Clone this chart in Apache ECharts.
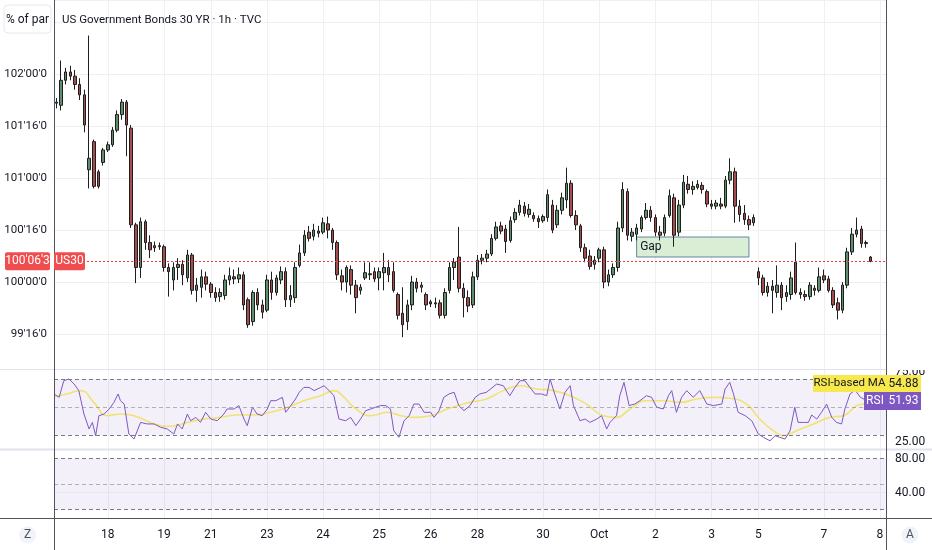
<!DOCTYPE html>
<html><head><meta charset="utf-8">
<script src="https://cdn.jsdelivr.net/npm/echarts@6/dist/echarts.min.js"></script>
<style>html,body{margin:0;padding:0;background:#fff}#c{width:932px;height:550px}</style>
</head><body><div id="c"></div><script>
const chartTitle = 'US Government Bonds 30 YR \u00b7 1h \u00b7 TVC';
const unitLabel = '% of par';
const symbolLabel = 'US30';
const slotCount = 178;
const tickIndex = [11, 23, 33, 45, 57, 69, 80, 90, 104, 116, 128, 140, 150, 164, 176];
const tickText = ['18', '19', '21', '23', '24', '25', '26', '28', '30', 'Oct', '2', '3', '5', '7', '8'];
// [open, close, low, high]
const candles = [
[101.72,101.73,101.67,101.77],[101.70,101.94,101.65,102.13],[101.94,102.02,101.90,102.06],[102.02,101.98,101.94,102.08],
[101.98,101.90,101.85,102.04],[101.90,101.80,101.75,101.96],[101.80,101.51,101.44,101.85],[101.08,101.19,100.90,102.37],
[101.35,100.92,100.90,101.37],[101.06,100.92,100.90,101.08],[101.15,101.27,101.12,101.29],[101.27,101.32,101.25,101.35],
[101.32,101.46,101.30,101.49],[101.46,101.61,101.44,101.65],[101.61,101.73,101.56,101.76],[101.73,101.51,101.21,101.75],
[101.48,100.55,100.52,101.51],[100.55,100.14,99.99,100.57],[100.14,100.58,100.04,100.62],[100.58,100.38,100.31,100.60],
[100.38,100.31,100.23,100.45],[100.33,100.35,100.29,100.39],[100.35,100.34,100.31,100.38],[100.34,100.14,100.10,100.36],
[100.14,100.10,99.86,100.18],[100.02,100.14,99.92,100.19],[100.14,100.17,100.02,100.23],[100.17,100.07,99.97,100.21],
[100.04,100.26,100.00,100.31],[100.26,99.92,99.88,100.28],[99.92,99.97,99.81,100.04],[99.95,100.05,99.85,100.12],
[100.05,99.98,99.92,100.10],[99.98,99.90,99.85,100.00],[99.90,99.85,99.81,99.95],[99.86,99.90,99.81,99.94],
[99.87,100.02,99.83,100.07],[100.02,100.06,99.97,100.14],[100.05,100.03,99.98,100.12],[100.03,100.07,99.99,100.14],
[100.07,99.78,99.73,100.10],[99.83,99.59,99.56,99.85],[99.62,99.90,99.58,99.92],[99.90,99.78,99.73,99.94],
[99.78,99.71,99.65,99.83],[99.73,100.02,99.71,100.07],[100.02,99.90,99.83,100.10],[99.90,100.04,99.87,100.07],
[100.02,100.10,99.98,100.15],[100.10,99.83,99.76,100.14],[99.83,99.87,99.76,99.97],[99.85,100.14,99.80,100.19],
[100.16,100.28,100.14,100.36],[100.28,100.45,100.25,100.50],[100.48,100.42,100.39,100.54],[100.44,100.50,100.40,100.56],
[100.49,100.47,100.43,100.54],[100.48,100.57,100.46,100.62],[100.56,100.50,100.42,100.63],[100.50,100.38,100.31,100.52],
[100.38,100.07,100.02,100.40],[100.06,100.00,99.92,100.12],[100.00,100.14,99.90,100.16],[100.12,99.97,99.88,100.16],
[99.97,99.85,99.70,100.02],[99.92,99.95,99.88,99.98],[100.04,100.09,100.02,100.19],[100.07,100.08,100.02,100.19],
[100.10,100.03,100.00,100.14],[100.04,100.10,99.92,100.14],[100.09,100.14,99.92,100.28],[100.14,100.07,100.00,100.21],
[100.10,99.92,99.90,100.19],[99.88,99.68,99.64,99.90],[99.70,99.59,99.47,99.95],[99.62,99.78,99.54,99.83],
[99.78,100.00,99.73,100.06],[100.00,99.94,99.90,100.04],[99.95,99.97,99.90,100.00],[99.88,99.78,99.73,99.90],
[99.81,99.79,99.76,99.83],[99.79,99.80,99.75,99.85],[99.80,99.68,99.65,99.83],[99.68,99.90,99.65,99.94],
[99.92,100.14,99.89,100.19],[100.14,100.19,100.02,100.23],[100.24,99.94,99.90,100.53],[99.94,99.85,99.66,99.99],
[99.85,99.77,99.71,99.92],[99.78,100.05,99.75,100.10],[100.05,100.21,100.02,100.26],[100.21,100.23,100.17,100.27],
[100.23,100.27,100.19,100.31],[100.27,100.42,100.25,100.46],[100.42,100.53,100.40,100.58],[100.54,100.49,100.46,100.58],
[100.51,100.39,100.28,100.55],[100.40,100.59,100.38,100.63],[100.60,100.67,100.57,100.71],[100.67,100.74,100.64,100.79],
[100.73,100.66,100.63,100.77],[100.65,100.70,100.62,100.75],[100.64,100.61,100.58,100.67],[100.61,100.58,100.52,100.64],
[100.59,100.63,100.57,100.65],[100.62,100.84,100.58,100.89],[100.74,100.50,100.47,100.79],[100.55,100.69,100.52,100.74],
[100.69,100.81,100.65,100.86],[100.79,100.95,100.71,101.10],[100.95,100.64,100.62,100.98],[100.64,100.55,100.50,100.69],
[100.54,100.33,100.29,100.56],[100.33,100.23,100.19,100.37],[100.25,100.15,100.12,100.31],[100.17,100.21,100.12,100.25],
[100.23,100.31,100.19,100.33],[100.31,100.00,99.94,100.34],[100.00,100.07,99.96,100.12],[100.07,100.14,100.04,100.18],
[100.14,100.52,100.10,100.58],[100.52,100.89,100.48,100.96],[100.87,100.45,100.40,100.90],[100.44,100.48,100.39,100.52],
[100.46,100.52,100.40,100.56],[100.51,100.62,100.48,100.64],[100.62,100.69,100.60,100.76],[100.69,100.62,100.58,100.73],
[100.62,100.48,100.44,100.65],[100.48,100.45,100.40,100.54],[100.47,100.62,100.44,100.65],[100.64,100.83,100.62,100.89],
[100.81,100.45,100.34,100.85],[100.48,100.74,100.44,100.79],[100.74,100.96,100.71,101.03],[100.94,100.89,100.85,101.02],
[100.89,100.92,100.84,100.97],[100.91,100.94,100.89,100.98],[100.93,100.89,100.85,100.96],[100.87,100.75,100.72,100.89],
[100.75,100.73,100.70,100.79],[100.73,100.76,100.70,100.79],[100.75,100.73,100.70,100.81],[100.73,100.98,100.71,101.02],
[100.98,101.06,100.94,101.19],[101.06,100.73,100.57,101.10],[100.73,100.65,100.58,100.79],[100.66,100.60,100.55,100.74],
[100.60,100.55,100.50,100.64],[100.57,100.62,100.54,100.65],[100.10,100.04,99.97,100.14],[100.04,99.90,99.87,100.07],
[99.90,99.96,99.86,100.00],[99.96,99.92,99.70,100.02],[99.90,99.97,99.85,100.16],[99.97,99.85,99.73,100.00],
[99.86,99.90,99.81,99.97],[99.88,100.04,99.83,100.10],[100.19,99.90,99.88,100.38],[99.90,99.88,99.84,99.94],
[99.88,99.86,99.82,99.92],[99.86,99.97,99.83,100.00],[99.94,99.92,99.87,99.97],[99.92,100.05,99.90,100.14],
[100.06,100.02,99.99,100.12],[100.03,99.92,99.90,100.06],[99.92,99.78,99.75,99.95],[99.80,99.73,99.64,99.85],
[99.73,99.97,99.70,100.00],[99.97,100.29,99.94,100.33],[100.29,100.46,100.26,100.52],[100.46,100.50,100.43,100.62],
[100.51,100.37,100.33,100.54],[100.37,100.38,100.33,100.40],[100.24,100.199,100.19,100.25]
];
// [slot position, RSI]
const rsiPoints = [
[0,59.3],[1.1,56.9],[2.1,68.8],[3.2,70],[4.3,66.4],[5.3,61.7],[6.4,45],[7.5,34.3],[8.2,39],[8.9,29.5],[9.6,43.8],
[10.7,45],[11.8,48.6],[12.8,53.3],[13.7,59.3],[14.2,54.5],[15.0,52.1],[16.0,30.7],[17.1,27.1],[18.5,39],[19.9,37.9],
[21.4,37.9],[22.8,35.5],[24.2,34.3],[25.6,30.7],[26.4,37.9],[27.4,34.3],[28.5,45],[29.2,40.2],[30.3,42.6],[31.3,39],
[32.4,46.2],[33.5,41.4],[34.9,40.2],[36.3,45],[37.0,48.6],[38.5,48.6],[39.5,51],[40.6,41.4],[41.3,36.7],[42.4,49.8],
[43.4,45],[44.5,43.8],[45.6,48.6],[46.3,54.5],[47.4,54.5],[48.8,56.9],[49.5,46.2],[50.6,51],[51.6,55.7],[52.4,60.5],
[53.4,64],[54.5,64],[55.6,61.7],[57.0,64],[57.7,65.2],[58.8,61.7],[59.8,58.1],[60.9,41.4],[62.3,40.2],[63.4,42.6],
[64.5,36.7],[65.5,41.4],[66.6,47.4],[67.7,48.6],[68.7,49.8],[69.8,51],[70.9,51],[71.9,48.6],[72.6,33.1],[73.7,28.3],
[74.8,40.2],[75.9,43.8],[76.9,52.1],[78.0,52.1],[79.1,46.2],[80.5,46.2],[81.2,42.6],[82.3,47.4],[83.3,56.9],[84.4,59.3],
[85.5,60.5],[86.5,51],[87.6,47.4],[88.9,51],[90.0,56.9],[91.0,59.3],[92.4,60.5],[94.6,66.4],[96.0,65.2],[97.4,58.1],
[98.5,64],[99.6,68.8],[100.6,68.8],[101.7,64],[102.8,59.3],[104.2,59.3],[105.3,58.1],[106.0,70],[107.1,58.1],[108.1,48.6],
[109.2,60.5],[110.3,65.2],[111.0,51],[112.4,40.2],[113.5,41.4],[114.5,39],[116.0,41.4],[117.0,43.8],[118.1,34.3],[118.8,39],
[120.2,43.8],[120.9,58.1],[121.8,67.6],[122.9,51],[124.1,52.1],[125.2,54.5],[126.6,58.1],[127.7,56.9],[128.8,49.8],[130.2,48.6],
[131.3,58.1],[132.0,61.7],[133.0,46.2],[134.1,56.9],[135.2,61.7],[136.6,56.9],[138.0,61.7],[139.5,52.1],[140.9,51],[142.7,52.1],
[143.4,62.9],[144.4,67.6],[145.2,59.3],[146.2,46.2],[147.7,43.8],[149.1,40.2],[150.5,30.7],[151.6,28.3],[153.0,25.9],[154.1,29.5],
[155.1,28.3],[156.2,27.1],[157.3,33.1],[158.3,49.8],[159.0,39],[160.1,39],[161.2,39],[161.9,44.3],[163.0,41.4],[164.0,46.2],
[165.1,52.1],[166.2,42.6],[167.2,39],[168.3,37.9],[169.0,48.6],[170.1,59.3],[171.2,62],[172.3,57],[173.4,55],[174.5,51.93]
];
// [slot position, RSI-based MA]
const rsiMaPoints = [
[0,57.5],[2.8,59.3],[5.7,61.7],[8.5,53.3],[11.4,43.8],[14.2,45],[17.1,43.8],[21.4,37.9],[24.9,36.2],[28.5,39],[32.1,41.4],
[35.6,42.6],[39.2,44.3],[42.7,44.3],[46.3,46.2],[49.9,49.8],[53.4,54.5],[57.0,58.1],[59.8,61.7],[62.0,56.9],[64.1,49.8],
[67.7,43.8],[71.2,46.2],[74.1,43.8],[76.9,42.6],[80.5,43.8],[84.0,48.6],[88.9,53.3],[92.4,55.7],[96.0,61.7],[99.6,65.2],
[103.1,62.9],[106.7,61.7],[110.3,58.1],[113.8,52.1],[117.4,43.8],[120.2,42.6],[123.1,48.6],[126.6,54.5],[130.2,54.5],
[133.8,53.3],[137.3,55.7],[140.9,56.9],[144.4,56.2],[148.0,52.1],[150.8,41.4],[153.7,33.1],[155.8,29.5],[158.7,33.1],
[162.3,37.9],[165.8,42.6],[168.7,43.8],[171.5,51],[172.9,52.1],[174.5,54.88]
];
const rsiBands = [70, 50, 30];
const lowerBands = [80, 50, 20];
const gapSlots = [124, 148];
const gapPrices = [100.433, 100.241];

const FONT = 'Roboto, "Open Sans", sans-serif';
const slots = Array.from({length: slotCount}, (_, i) => 't' + i);
const isTick = (i) => tickIndex.indexOf(i) >= 0;
const lastPrice = candles[candles.length - 1][1];
const lastRsi = rsiPoints[rsiPoints.length - 1][1];
const lastMa = rsiMaPoints[rsiMaPoints.length - 1][1];

function fmt32(v) {
  const i = Math.floor(v + 1e-9);
  const f = (v - i) * 32;
  const n = Math.floor(f + 1e-6);
  let e = Math.round((f - n) * 8);
  return i + "'" + String(n).padStart(2, '0') + "'" + e;
}

const gridLineColor = '#eef0f4';
function catAxis(gi, showLabels) {
  return {
    type: 'category', gridIndex: gi, data: slots, boundaryGap: true,
    axisLine: {show: false}, axisTick: {show: false},
    axisLabel: showLabels ? {
      show: true, interval: (i) => isTick(i), margin: 11, color: '#131722', fontSize: 12, fontFamily: FONT,
      formatter: (v, i) => { const k = tickIndex.indexOf(i); return k >= 0 ? tickText[k] : ''; }
    } : {show: false},
    splitLine: {show: true, interval: (i) => isTick(i), alignWithLabel: true, lineStyle: {color: gridLineColor, width: 1}}
  };
}
function valAxis(gi) {
  return {type: 'value', gridIndex: gi, min: 0, max: slotCount, show: false, position: 'top'};
}
const dash = [4, 3];
function bandLines(vals) {
  return vals.map((v, k) => ({
    yAxis: v,
    lineStyle: k === 1 ? {color: 'rgba(120,123,134,0.55)', type: dash, width: 1} : {color: '#787b86', type: dash, width: 1}
  }));
}

const chart = echarts.init(document.getElementById('c'), null, {renderer: 'canvas'});
chart.setOption({
  animation: false,
  textStyle: {fontFamily: FONT},
  grid: [
    {left: 54, right: 45, top: 0, height: 369},
    {left: 54, right: 45, top: 370, height: 79},
    {left: 54, right: 45, top: 450, height: 68}
  ],
  xAxis: [catAxis(0, false), catAxis(1, false), catAxis(2, true), valAxis(1), valAxis(2)],
  yAxis: [
    {type: 'value', gridIndex: 0, position: 'left', min: 99.164, max: 102.712, splitNumber: 7,
     axisLine: {show: false}, axisTick: {show: false},
     axisLabel: {formatter: fmt32, color: '#131722', fontSize: 11.5, margin: 7, showMinLabel: false, showMaxLabel: false},
     splitLine: {show: true, lineStyle: {color: gridLineColor}}},
    {type: 'value', gridIndex: 1, position: 'right', min: 20, max: 76.43, interval: 5,
     axisLine: {show: false}, axisTick: {show: false}, splitLine: {show: false},
     axisLabel: {color: '#131722', fontSize: 12, margin: 8, showMaxLabel: false,
       formatter: (v) => (Math.abs(v - 25) < 1e-6 || Math.abs(v - 75) < 1e-6) ? v.toFixed(2) : ''}},
    {type: 'value', gridIndex: 2, position: 'right', min: 10, max: 90, interval: 10,
     axisLine: {show: false}, axisTick: {show: false}, splitLine: {show: false},
     axisLabel: {color: '#131722', fontSize: 12, margin: 8,
       formatter: (v) => (Math.abs(v - 80) < 1e-6 || Math.abs(v - 40) < 1e-6) ? v.toFixed(2) : ''}}
  ],
  series: [
    {
      type: 'candlestick', xAxisIndex: 0, yAxisIndex: 0, data: candles, barWidth: 3,
      itemStyle: {color: '#5e8f6c', color0: '#a54c4c', borderColor: '#1e1e1e', borderColor0: '#1e1e1e', borderWidth: 1},
      markArea: {silent: true,
        itemStyle: {color: 'rgba(214,236,208,0.9)', borderColor: '#6385a6', borderWidth: 1},
        label: {show: true, position: 'insideLeft', distance: 4, color: '#131722', fontSize: 12, formatter: 'Gap'},
        data: [[{xAxis: gapSlots[0], yAxis: gapPrices[0]}, {xAxis: gapSlots[1], yAxis: gapPrices[1]}]]}
    },
    {
      type: 'line', xAxisIndex: 3, yAxisIndex: 1, data: rsiPoints, symbol: 'none', z: 4,
      lineStyle: {color: '#7e57c2', width: 1},
      markLine: {silent: true, symbol: ['none', 'none'], label: {show: false}, data: bandLines(rsiBands)},
      markArea: {silent: true, itemStyle: {color: 'rgba(126,87,194,0.09)'},
        data: [[{yAxis: rsiBands[0]}, {yAxis: rsiBands[2]}]]}
    },
    {
      type: 'line', xAxisIndex: 3, yAxisIndex: 1, data: rsiMaPoints, symbol: 'none', smooth: 0.5, z: 3,
      lineStyle: {color: 'rgba(240,224,80,0.8)', width: 1.6}
    },
    {
      type: 'line', xAxisIndex: 4, yAxisIndex: 2, data: [], symbol: 'none',
      markLine: {silent: true, symbol: ['none', 'none'], label: {show: false},
        data: bandLines(lowerBands).concat([{yAxis: 40, lineStyle: {color: '#e6e8ee', type: 'solid', width: 1}}])},
      markArea: {silent: true, itemStyle: {color: 'rgba(126,87,194,0.09)'},
        data: [[{yAxis: lowerBands[0]}, {yAxis: lowerBands[2]}]]}
    }
  ]
});

const py = chart.convertToPixel({yAxisIndex: 0}, lastPrice);
const pyLine = Math.round(py) + 0.5;
const red = '#f04d4f', yellow = '#f7e84e', purple = '#7e57c2';
const txt = (x, y, t, fill, align, size) => ({type: 'text', x: x, y: y, z: 101,
  style: {text: t, fill: fill, font: (size || 12) + 'px ' + FONT, align: align || 'center', verticalAlign: 'middle'}});
const box = (x, y, w, h, fill, r) => ({type: 'rect', z: 100, shape: {x: x, y: y, width: w, height: h, r: r || 0}, style: {fill: fill}});
const ln = (x1, y1, x2, y2, c, w) => ({type: 'line', z: 99, shape: {x1: x1, y1: y1, x2: x2, y2: y2}, style: {stroke: c, lineWidth: w || 1}});
chart.setOption({graphic: [
  {type: 'line', z: 98, shape: {x1: 55, y1: pyLine, x2: 886, y2: pyLine},
   style: {stroke: '#ef3b3b', lineWidth: 1, lineDash: [2, 2]}},
  box(887, 355, 45, 15, '#ffffff', 0),
  ln(0, 369.5, 932, 369.5, '#e0e3eb', 1),
  ln(0, 449.5, 932, 449.5, '#e0e3eb', 2),
  ln(0, 518.5, 932, 518.5, '#50535e', 1),
  ln(54.5, 0, 54.5, 550, '#50535e', 1),
  ln(886.5, 0, 886.5, 550, '#50535e', 1),
  {type: 'rect', z: 100, shape: {x: 4, y: 5, width: 47, height: 28, r: 4}, style: {fill: '#fff', stroke: '#e6e8ee'}},
  txt(27.5, 19.5, unitLabel, '#131722'),
  txt(62, 20, chartTitle, '#131722', 'left', 11.5),
  box(5, py - 9, 45, 18, red, 2), txt(27.5, py, fmt32(lastPrice), '#fff'),
  box(54, py - 9, 31, 18, red, 2), txt(69.5, py, symbolLabel, '#fff'),
  box(813, 375, 73, 17, yellow, 0), txt(849.5, 383.5, 'RSI-based MA', '#131722', 'center', 11.5),
  box(886, 375, 35, 17, yellow, 0), txt(903.5, 383.5, lastMa.toFixed(2), '#131722'),
  box(864, 392, 22, 18, purple, 0), txt(875, 401, 'RSI', '#fff'),
  box(886, 392, 35, 18, purple, 0), txt(903.5, 401, lastRsi.toFixed(2), '#fff'),
  {type: 'circle', z: 100, shape: {cx: 27.5, cy: 535, r: 8.5}, style: {fill: '#f0f3fa'}},
  txt(27.5, 535, 'Z', '#50535e'),
  {type: 'circle', z: 100, shape: {cx: 910, cy: 535, r: 8.5}, style: {fill: '#f0f3fa'}},
  txt(910, 535, 'A', '#50535e')
]});
</script></body></html>
